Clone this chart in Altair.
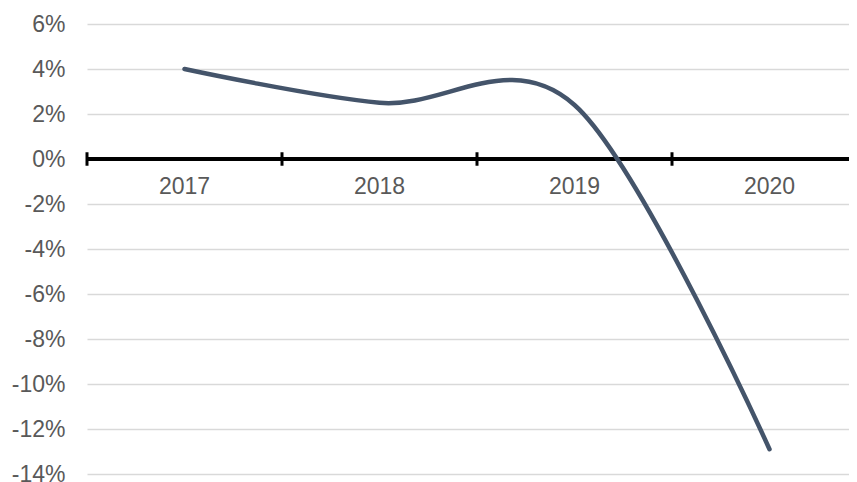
import altair as alt
import pandas as pd

years = [2017, 2018, 2019, 2020]
values = [4.0, 2.5, 2.4, -12.9]
y_ticks = [-14, -12, -10, -8, -6, -4, -2, 0, 2, 4, 6]
sep_positions = [2016.5, 2017.5, 2018.5, 2019.5]

df = pd.DataFrame({"year": years, "value": values})
labels_df = pd.DataFrame({"year": years, "label": [str(y) for y in years]})
ticks_df = pd.DataFrame({"x": sep_positions, "y1": [0.3] * 4, "y2": [-0.3] * 4})

W = 762
H = 450
band = 195.0
xscale = alt.Scale(domain=[2016.5, 2016.5 + W / band], nice=False, zero=False)
yscale = alt.Scale(domain=[-14, 6], nice=False, zero=False)

FONT = "Liberation Sans"

base_y = alt.Y(
    "value:Q",
    scale=yscale,
    axis=alt.Axis(
        values=y_ticks,
        labelExpr="datum.value + '%'",
        grid=True,
        gridColor="#d9d9d9",
        gridWidth=1.4,
        domain=False,
        ticks=False,
        labelPadding=22,
        labelColor="#595959",
        labelFont=FONT,
        labelFontSize=23,
        title=None,
    ),
)

line = alt.Chart(df).mark_line(
    interpolate="cardinal", strokeWidth=4.5, color="#44546A", strokeCap="round"
).encode(
    x=alt.X("year:Q", scale=xscale, axis=None),
    y=base_y,
)

zero = alt.Chart(df).mark_rule(color="black", strokeWidth=3.5).encode(
    y=alt.datum(0, scale=yscale)
)

ticks = alt.Chart(ticks_df).mark_rule(color="black", strokeWidth=3).encode(
    x=alt.X("x:Q", scale=xscale, axis=None),
    y=alt.Y("y1:Q", scale=yscale),
    y2="y2:Q",
)

labels = alt.Chart(labels_df).mark_text(
    font=FONT, fontSize=23, color="#595959", baseline="middle", dy=28
).encode(
    x=alt.X("year:Q", scale=xscale, axis=None),
    y=alt.datum(0, scale=yscale),
    text="label:N",
)

chart = alt.layer(line.mark_line(opacity=0).encode(), zero, ticks, labels, line).properties(
    width=W,
    height=H,
    autosize=alt.AutoSizeParams(type="none"),
    padding={"left": 79, "top": 16, "right": 0, "bottom": 8},
).configure_view(stroke=None)

chart.save("out.html", embed_options={"renderer": "svg", "actions": False})
